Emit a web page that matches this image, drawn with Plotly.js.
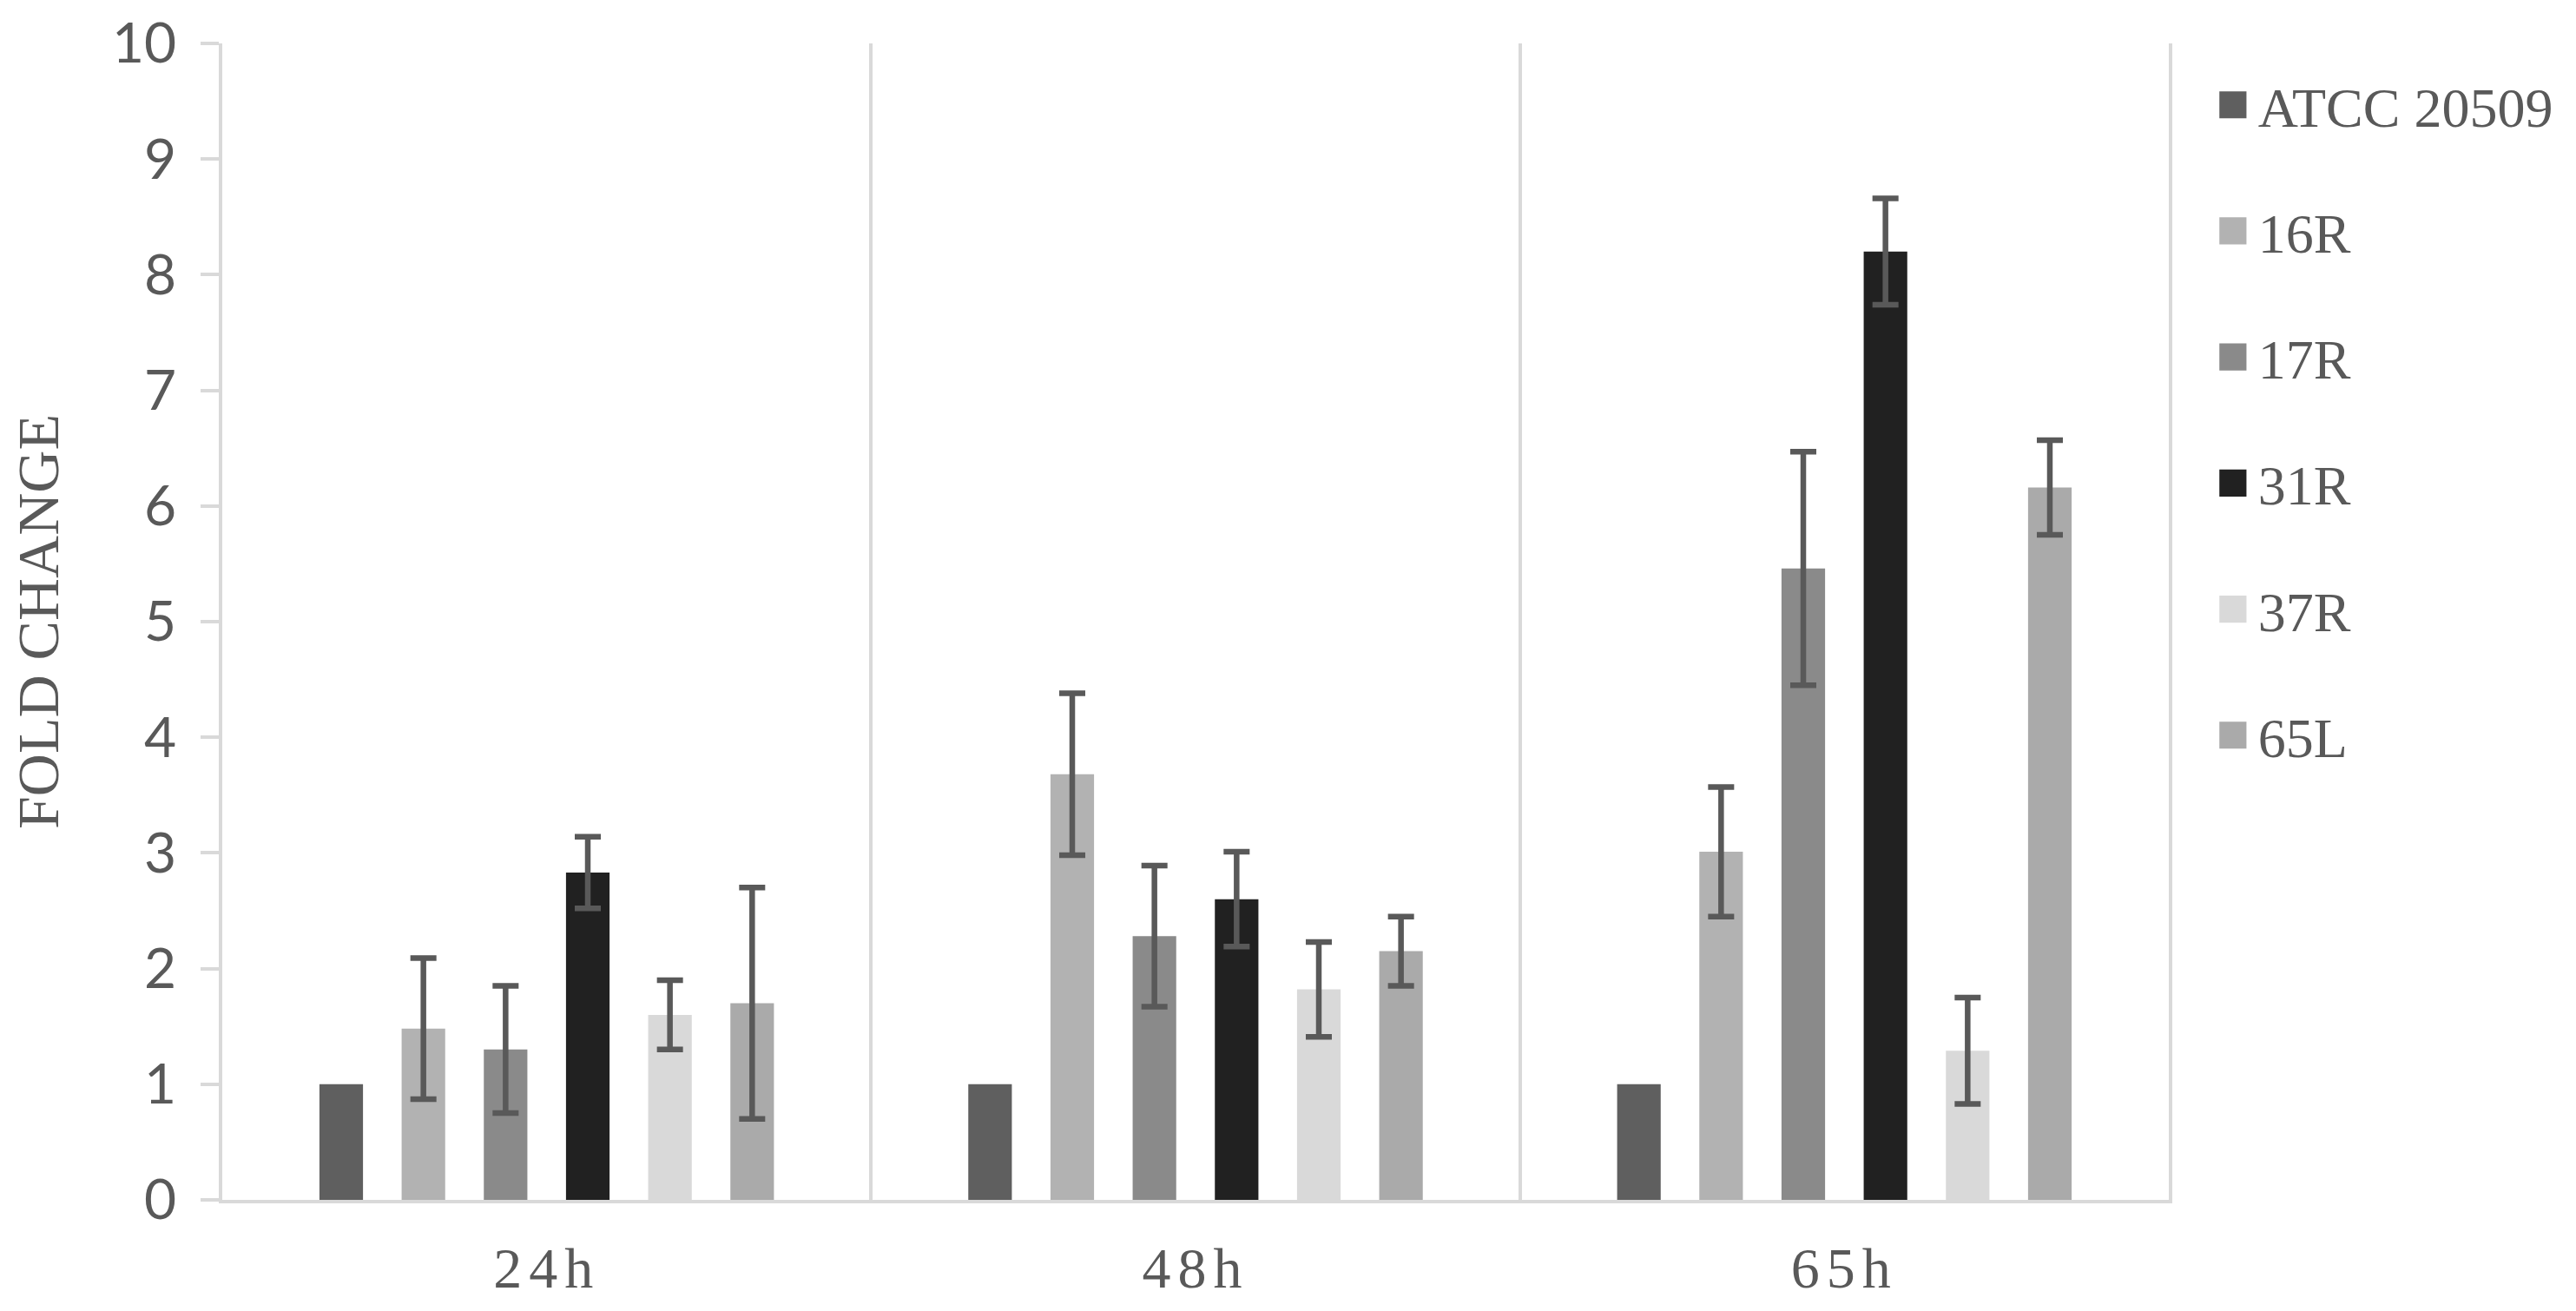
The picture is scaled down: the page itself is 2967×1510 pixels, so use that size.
<!DOCTYPE html>
<html>
<head>
<meta charset="utf-8">
<script src="https://cdn.plot.ly/plotly-3.0.1.min.js"></script>
<style>
  html, body { margin: 0; padding: 0; background: #ffffff; }
  #chart { width: 2967px; height: 1510px; }
  .xtick text { letter-spacing: 8px; }
  .legend .legendpoints path { transform: translate(29px, 0px) scale(2.6) !important; }
</style>
</head>
<body>
<div id="chart"></div>
<script>
// ---- data ----
const categories = ['24h', '48h', '65h'];
const seriesNames = ['ATCC 20509', '16R', '17R', '31R', '37R', '65L'];
const seriesColors = ['#5f5f5f', '#b2b2b2', '#8a8a8a', '#212121', '#d9d9d9', '#aaaaaa'];

const valATCC = [1.00, 1.00, 1.00];
const val16R  = [1.48, 3.68, 3.01];
const val17R  = [1.30, 2.28, 5.46];
const val31R  = [2.83, 2.60, 8.20];
const val37R  = [1.60, 1.82, 1.29];
const val65L  = [1.70, 2.15, 6.16];

const errATCC = null;
const err16R  = [0.61, 0.70, 0.56];
const err17R  = [0.55, 0.61, 1.01];
const err31R  = [0.31, 0.41, 0.46];
const err37R  = [0.30, 0.41, 0.46];
const err65L  = [1.00, 0.30, 0.41];

const yTickVals = [0, 1, 2, 3, 4, 5, 6, 7, 8, 9, 10];
const yTitle = 'FOLD CHANGE';

const allValues = [valATCC, val16R, val17R, val31R, val37R, val65L];
const allErrors = [errATCC, err16R, err17R, err31R, err37R, err65L];

// ---- traces ----
const traces = seriesNames.map((name, i) => {
  const t = {
    type: 'bar',
    name: name,
    x: categories,
    y: allValues[i],
    legendgroup: 'g' + i,
    marker: { color: seriesColors[i], line: { width: 0 } },
    hoverinfo: 'x+y+name'
  };
  if (allErrors[i]) {
    t.error_y = {
      type: 'data',
      array: allErrors[i],
      visible: true,
      color: '#595959',
      thickness: 6.5,
      width: 15
    };
  }
  return t;
});

const layout = {
  width: 2967,
  height: 1510,
  paper_bgcolor: '#ffffff',
  plot_bgcolor: '#ffffff',
  margin: { l: 256, r: 469, t: 50, b: 128, pad: 0 },
  barmode: 'group',
  bargap: 0.24,
  bargroupgap: 0.47,
  showlegend: true,
  legend: {
    x: 1.02,
    xanchor: 'left',
    y: 0.983,
    yanchor: 'top',
    traceorder: 'grouped',
    tracegroupgap: 59,
    itemwidth: 48,
    font: { family: '"Liberation Serif", "Times New Roman", serif', size: 64, color: '#595959' },
    bgcolor: 'rgba(0,0,0,0)',
    borderwidth: 0
  },
  xaxis: {
    type: 'category',
    tickson: 'boundaries',
    showgrid: true,
    gridcolor: '#d9d9d9',
    gridwidth: 4,
    showline: true,
    linecolor: '#d9d9d9',
    linewidth: 4,
    ticks: '',
    ticklabelstandoff: 18,
    tickfont: { family: '"Liberation Serif", "Times New Roman", serif', size: 66, color: '#595959' },
    zeroline: false,
    fixedrange: true
  },
  yaxis: {
    range: [0, 10],
    tickvals: yTickVals,
    ticktext: yTickVals.map(String),
    showgrid: false,
    zeroline: false,
    showline: true,
    mirror: true,
    linecolor: '#d9d9d9',
    linewidth: 4,
    ticks: 'outside',
    ticklen: 21,
    tickwidth: 4,
    tickcolor: '#d9d9d9',
    ticklabelstandoff: 15,
    tickfont: { family: 'Lato, "Open Sans", sans-serif', size: 64, color: '#595959' },
    title: {
      text: yTitle,
      standoff: 40,
      font: { family: '"Liberation Serif", "Times New Roman", serif', size: 68, color: '#595959' }
    },
    fixedrange: true
  }
};

Plotly.newPlot('chart', traces, layout, { displayModeBar: false, staticPlot: true });
</script>
</body>
</html>
